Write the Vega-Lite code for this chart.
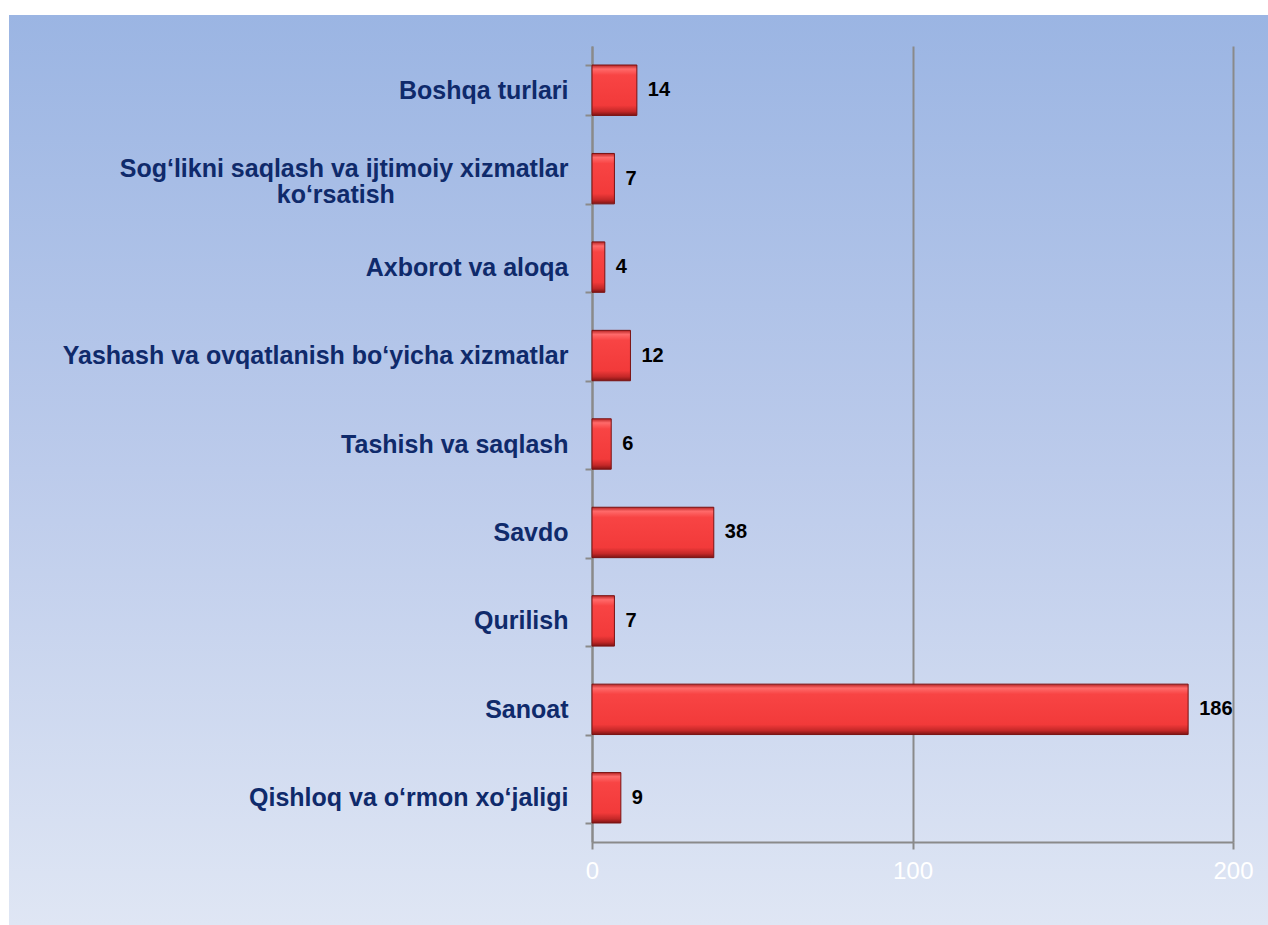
{
  "$schema": "https://vega.github.io/schema/vega-lite/v6.json",
  "autosize": {"type": "none"},
  "padding": {"left": 9, "top": 15, "right": 0, "bottom": 0},
  "width": 1259,
  "height": 910,
  "background": "#ffffff",
  "config": {
    "font": "Liberation Sans",
    "view": {
      "stroke": null,
      "fill": {
        "gradient": "linear",
        "x1": 0, "y1": 0, "x2": 0, "y2": 1,
        "stops": [
          {"offset": 0, "color": "#9bb5e3"},
          {"offset": 0.5, "color": "#bccbeb"},
          {"offset": 1, "color": "#dfe6f4"}
        ]
      }
    }
  },
  "data": {
    "values": [
      {"sector": "Boshqa turlari", "value": 14},
      {"sector": "Sog‘likni saqlash va ijtimoiy xizmatlar ko‘rsatish", "value": 7},
      {"sector": "Axborot va aloqa", "value": 4},
      {"sector": "Yashash va ovqatlanish bo‘yicha xizmatlar", "value": 12},
      {"sector": "Tashish va saqlash", "value": 6},
      {"sector": "Savdo", "value": 38},
      {"sector": "Qurilish", "value": 7},
      {"sector": "Sanoat", "value": 186},
      {"sector": "Qishloq va o‘rmon xo‘jaligi", "value": 9}
    ]
  },
  "resolve": {"axis": {"x": "independent"}},
  "encoding": {
    "y": {
      "field": "sector",
      "type": "nominal",
      "sort": null,
      "scale": {"range": [31, 827], "paddingInner": 0.43, "paddingOuter": 0.215},
      "axis": {
        "title": null,
        "offset": -583,
        "domainColor": "#8a8a8a",
        "domainWidth": 2,
        "tickColor": "#8a8a8a",
        "tickWidth": 2,
        "tickSize": 7,
        "tickBand": "extent",
        "labelFont": "Liberation Sans",
        "labelFontSize": 25,
        "labelFontWeight": "bold",
        "labelColor": "#0f2a6b",
        "labelLimit": 700,
        "labelPadding": 17,
        "labelLineHeight": 26,
        "labelOffset": {
          "condition": {"test": "datum.value == 'Sog‘likni saqlash va ijtimoiy xizmatlar ko‘rsatish'", "value": -10},
          "value": 0
        },
        "labelExpr": "datum.label == 'Sog‘likni saqlash va ijtimoiy xizmatlar ko‘rsatish' ? ['Sog‘likni saqlash va ijtimoiy xizmatlar', 'ko‘rsatish' + pad('', 25, '\u00a0') + '\u2060'] : datum.label"
      }
    }
  },
  "layer": [
    {
      "mark": {
        "type": "bar",
        "stroke": "#7a1212",
        "strokeWidth": 1,
        "fill": {
          "gradient": "linear",
          "x1": 0, "y1": 0, "x2": 0, "y2": 1,
          "stops": [
            {"offset": 0, "color": "#b82424"},
            {"offset": 0.08, "color": "#ff6a6a"},
            {"offset": 0.2, "color": "#f84444"},
            {"offset": 0.8, "color": "#f23a3a"},
            {"offset": 0.92, "color": "#c42828"},
            {"offset": 1, "color": "#7e1414"}
          ]
        }
      },
      "encoding": {
        "x": {
          "field": "value",
          "type": "quantitative",
          "scale": {"domain": [0, 200], "range": [583, 1224], "nice": false},
          "axis": {
            "orient": "top",
            "title": null,
            "values": [0, 100, 200],
            "grid": true,
            "gridColor": "#8a8a8a",
            "gridWidth": 2,
            "domain": false,
            "ticks": false,
            "labels": false
          }
        }
      }
    },
    {
      "mark": {
        "type": "text",
        "align": "left",
        "baseline": "middle",
        "dx": 11,
        "font": "Liberation Sans",
        "fontSize": 20,
        "fontWeight": "bold",
        "color": "#000000"
      },
      "encoding": {
        "x": {
          "field": "value",
          "type": "quantitative",
          "scale": {"domain": [0, 200], "range": [583, 1224], "nice": false},
          "axis": {
            "orient": "bottom",
            "title": null,
            "offset": -83,
            "values": [0, 100, 200],
            "grid": false,
            "domainColor": "#8a8a8a",
            "domainWidth": 2,
            "tickColor": "#8a8a8a",
            "tickWidth": 2,
            "tickSize": 7,
            "labelColor": "#ffffff",
            "labelFontSize": 24,
            "labelPadding": 10,
            "labelFlush": false
          }
        },
        "text": {"field": "value", "type": "quantitative"}
      }
    }
  ]
}
